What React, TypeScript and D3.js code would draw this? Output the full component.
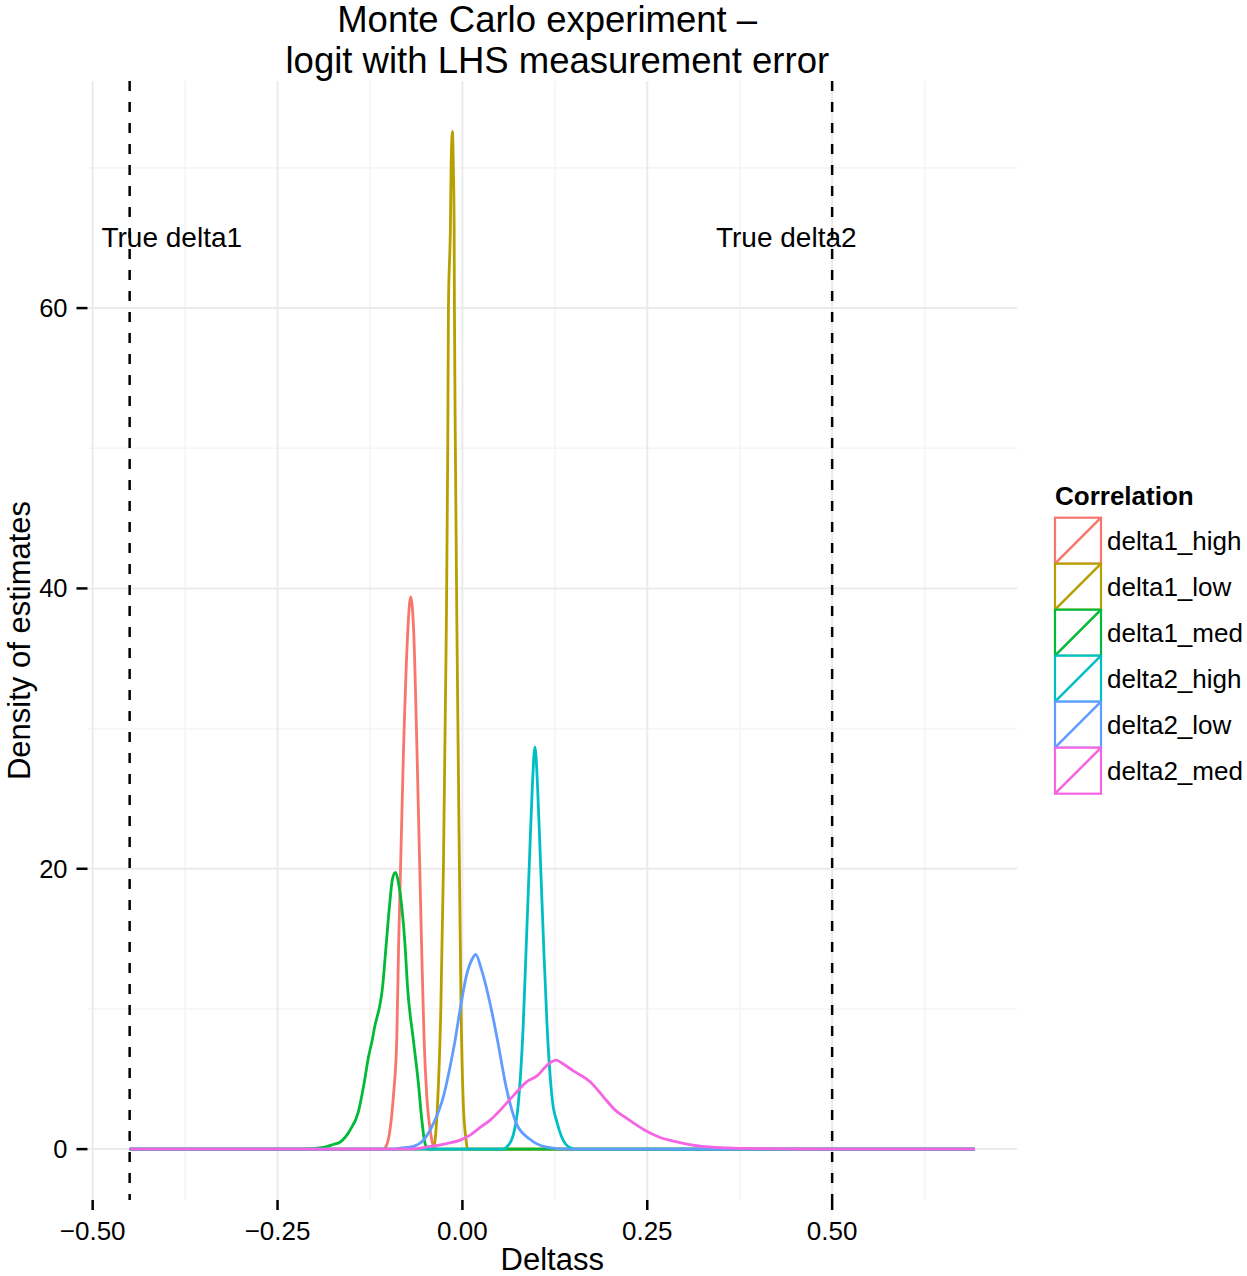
import React from "react";
import * as d3 from "d3";

type Pt = [number, number];

const categories = ["delta1_high", "delta1_low", "delta1_med", "delta2_high", "delta2_low", "delta2_med"];
const seriesColors = ["#F8766D", "#B79F00", "#00BA38", "#00BFC4", "#619CFF", "#F564E3"];

const delta1High: Pt[] = [
  [-0.45, 0], [-0.108, 0], [-0.1046, 0.1], [-0.0987, 1.1], [-0.0933, 3.8], [-0.0888, 7.8],
  [-0.0863, 14.5], [-0.0796, 28.6], [-0.0737, 37.1], [-0.0701, 39.4], [-0.066, 37.1],
  [-0.0615, 28.6], [-0.0552, 14.5], [-0.0518, 7.8], [-0.0482, 3.8], [-0.0428, 1.1],
  [-0.0383, 0.1], [-0.035, 0], [0.693, 0],
];
const delta1Low: Pt[] = [
  [-0.45, 0], [-0.039, 0], [-0.037, 0.64], [-0.0338, 3.0], [-0.0292, 10], [-0.0257, 20],
  [-0.022, 36], [-0.0198, 50], [-0.0189, 60], [-0.0162, 66], [-0.0153, 70], [-0.0135, 72.6],
  [-0.0122, 70], [-0.0112, 66], [-0.0108, 60], [-0.0095, 50], [-0.0076, 38], [-0.004, 20],
  [-0.0018, 10], [0.0014, 3.0], [0.005, 0.64], [0.0068, 0], [0.693, 0],
];
const delta1Med: Pt[] = [
  [-0.45, 0], [-0.2155, 0], [-0.188, 0.12], [-0.1745, 0.33], [-0.1654, 0.5], [-0.152, 1.35],
  [-0.1407, 2.66], [-0.133, 4.68], [-0.127, 6.58], [-0.1215, 7.9], [-0.1195, 8.5],
  [-0.1077, 11.7], [-0.1032, 14.5], [-0.0987, 17.3], [-0.0945, 19.3], [-0.0904, 19.75],
  [-0.0865, 19.0], [-0.082, 17.3], [-0.0775, 14.5], [-0.0744, 11.7], [-0.0663, 7.77],
  [-0.0595, 4.68], [-0.055, 2.14], [-0.0505, 0.4], [-0.046, 0], [0.693, 0],
];
const delta2High: Pt[] = [
  [-0.45, 0], [0.055, 0], [0.06, 0.15], [0.0687, 1.0], [0.0755, 3.2], [0.0823, 8.9],
  [0.0863, 14.5], [0.0904, 20.2], [0.0945, 25.8], [0.0981, 28.7], [0.1017, 25.8],
  [0.1058, 20.2], [0.1099, 14.5], [0.1144, 8.9], [0.1216, 3.5], [0.128, 1.9], [0.134, 0.9],
  [0.139, 0.4], [0.146, 0.1], [0.152, 0], [0.693, 0],
];
const delta2Low: Pt[] = [
  [-0.45, 0], [-0.095, 0], [-0.0843, 0.07], [-0.0663, 0.2], [-0.0527, 0.64], [-0.039, 1.85],
  [-0.0257, 3.75], [-0.0166, 5.9], [-0.0099, 7.77], [-0.003, 10], [0.006, 12.5],
  [0.0136, 13.6], [0.018, 13.9], [0.0258, 12.8], [0.0402, 9.7], [0.0484, 7.5],
  [0.0583, 4.65], [0.0732, 1.8], [0.0913, 0.7], [0.1139, 0.14], [0.141, 0], [0.693, 0],
];
const delta2Med: Pt[] = [
  [-0.45, 0], [-0.07, 0], [-0.0437, 0.19], [-0.021, 0.4], [-0.003, 0.64], [0.0104, 1.0],
  [0.024, 1.55], [0.0375, 2.07], [0.0461, 2.5], [0.0687, 3.8], [0.0868, 4.8], [0.1004, 5.2],
  [0.1162, 6.07], [0.1266, 6.35], [0.1365, 6.07], [0.15, 5.58], [0.1727, 4.8],
  [0.1907, 3.73], [0.2066, 2.78], [0.2224, 2.19], [0.245, 1.4], [0.2674, 0.83], [0.29, 0.52],
  [0.3215, 0.21], [0.3576, 0.09], [0.4027, 0.03], [0.4477, 0.01], [0.5, 0], [0.693, 0],
];
const seriesData = [delta1High, delta1Low, delta1Med, delta2High, delta2Low, delta2Med];

const xTicks = [-0.5, -0.25, 0, 0.25, 0.5];
const xTickLabels = ["\u22120.50", "\u22120.25", "0.00", "0.25", "0.50"];
const xMinor = [-0.375, -0.125, 0.125, 0.375, 0.625];
const yTicks = [0, 20, 40, 60];
const yTickLabels = ["0", "20", "40", "60"];
const yMinor = [10, 30, 50, 70];

const vlines = [-0.45, 0.5];
const annotations = [
  { x: -0.393, y: 65, label: "True delta1" },
  { x: 0.438, y: 65, label: "True delta2" },
];

const titleLines = ["Monte Carlo experiment \u2013 ", " logit with LHS measurement error"];
const xTitle = "Deltass";
const yTitle = "Density of estimates";
const legendTitle = "Correlation";

const FONT = "'Liberation Sans', Arial, Helvetica, sans-serif";

export default function App() {
  const W = 1247;
  const H = 1276;
  const panel = { left: 87.5, right: 1017, top: 81, bottom: 1200 };
  const x = d3.scaleLinear().domain([-0.507, 0.75]).range([panel.left, panel.right]);
  const y = d3.scaleLinear().domain([-3.63, 76.2]).range([panel.bottom, panel.top]);
  const line = d3
    .line<Pt>()
    .x((d) => x(d[0]))
    .y((d) => y(d[1]))
    .curve(d3.curveMonotoneX);
  const cx = (panel.left + panel.right) / 2;
  const cy = (panel.top + panel.bottom) / 2;

  const legX = 1055;
  const legY0 = 517.7;
  const keySize = 46;

  return (
    <svg
      width={W}
      height={H}
      style={{ position: "absolute", left: 0, top: 0, display: "block", background: "#fff" }}
      fontFamily={FONT}
    >
      <rect x={0} y={0} width={W} height={H} fill="#fff" />
      {/* grid */}
      {xMinor.map((v) => (
        <line key={"xm" + v} x1={x(v)} x2={x(v)} y1={panel.top} y2={panel.bottom} stroke="#F5F5F5" strokeWidth={1.6} />
      ))}
      {yMinor.map((v) => (
        <line key={"ym" + v} x1={panel.left} x2={panel.right} y1={y(v)} y2={y(v)} stroke="#F5F5F5" strokeWidth={1.6} />
      ))}
      {xTicks.map((v) => (
        <line key={"xg" + v} x1={x(v)} x2={x(v)} y1={panel.top} y2={panel.bottom} stroke="#EBEBEB" strokeWidth={2} />
      ))}
      {yTicks.map((v) => (
        <line key={"yg" + v} x1={panel.left} x2={panel.right} y1={y(v)} y2={y(v)} stroke="#EBEBEB" strokeWidth={2} />
      ))}

      {/* densities */}
      {seriesData.map((d, i) => (
        <path key={categories[i]} d={line(d) || ""} fill="none" stroke={seriesColors[i]} strokeWidth={2.8} strokeLinejoin="round" />
      ))}

      {/* vertical reference lines */}
      {vlines.map((v) => (
        <line key={"vl" + v} x1={x(v)} x2={x(v)} y1={panel.top} y2={panel.bottom} stroke="#000" strokeWidth={2.5} strokeDasharray="10,11" />
      ))}

      {annotations.map((a) => (
        <text key={a.label} x={x(a.x)} y={y(a.y)} textAnchor="middle" dominantBaseline="central" fontSize={28} fill="#000">
          {a.label}
        </text>
      ))}

      {/* axes ticks */}
      {yTicks.map((v, i) => (
        <g key={"yt" + v}>
          <line x1={panel.left - 11} x2={panel.left} y1={y(v)} y2={y(v)} stroke="#000" strokeWidth={2.5} />
          <text x={panel.left - 20} y={y(v)} textAnchor="end" dominantBaseline="central" fontSize={25.5} fill="#000">
            {yTickLabels[i]}
          </text>
        </g>
      ))}
      {xTicks.map((v, i) => (
        <g key={"xt" + v}>
          <line x1={x(v)} x2={x(v)} y1={panel.bottom} y2={panel.bottom + 10} stroke="#000" strokeWidth={2.5} />
          <text x={x(v)} y={1240} textAnchor="middle" fontSize={26} fill="#000">
            {xTickLabels[i]}
          </text>
        </g>
      ))}

      {/* axis titles */}
      <text x={cx} y={1270} textAnchor="middle" fontSize={31} fill="#000">
        {xTitle}
      </text>
      <text transform={`translate(30,${cy}) rotate(-90)`} textAnchor="middle" fontSize={31} fill="#000">
        {yTitle}
      </text>

      {/* title */}
      {titleLines.map((t, i) => (
        <text key={"t" + i} x={cx} y={32 + i * 41} textAnchor="middle" fontSize={36.5} fill="#000" style={{ whiteSpace: "pre" }}>
          {t}
        </text>
      ))}

      {/* legend */}
      <text x={legX} y={505} fontSize={26} fontWeight="bold" fill="#000">
        {legendTitle}
      </text>
      {categories.map((c, i) => {
        const ky = legY0 + i * keySize;
        return (
          <g key={"lg" + c}>
            <rect x={legX} y={ky} width={keySize} height={keySize} fill="#fff" stroke={seriesColors[i]} strokeWidth={2.2} />
            <line x1={legX} y1={ky + keySize} x2={legX + keySize} y2={ky} stroke={seriesColors[i]} strokeWidth={2.5} />
            <text x={legX + 52} y={ky + keySize / 2} dominantBaseline="central" fontSize={26} fill="#000">
              {c}
            </text>
          </g>
        );
      })}
    </svg>
  );
}
